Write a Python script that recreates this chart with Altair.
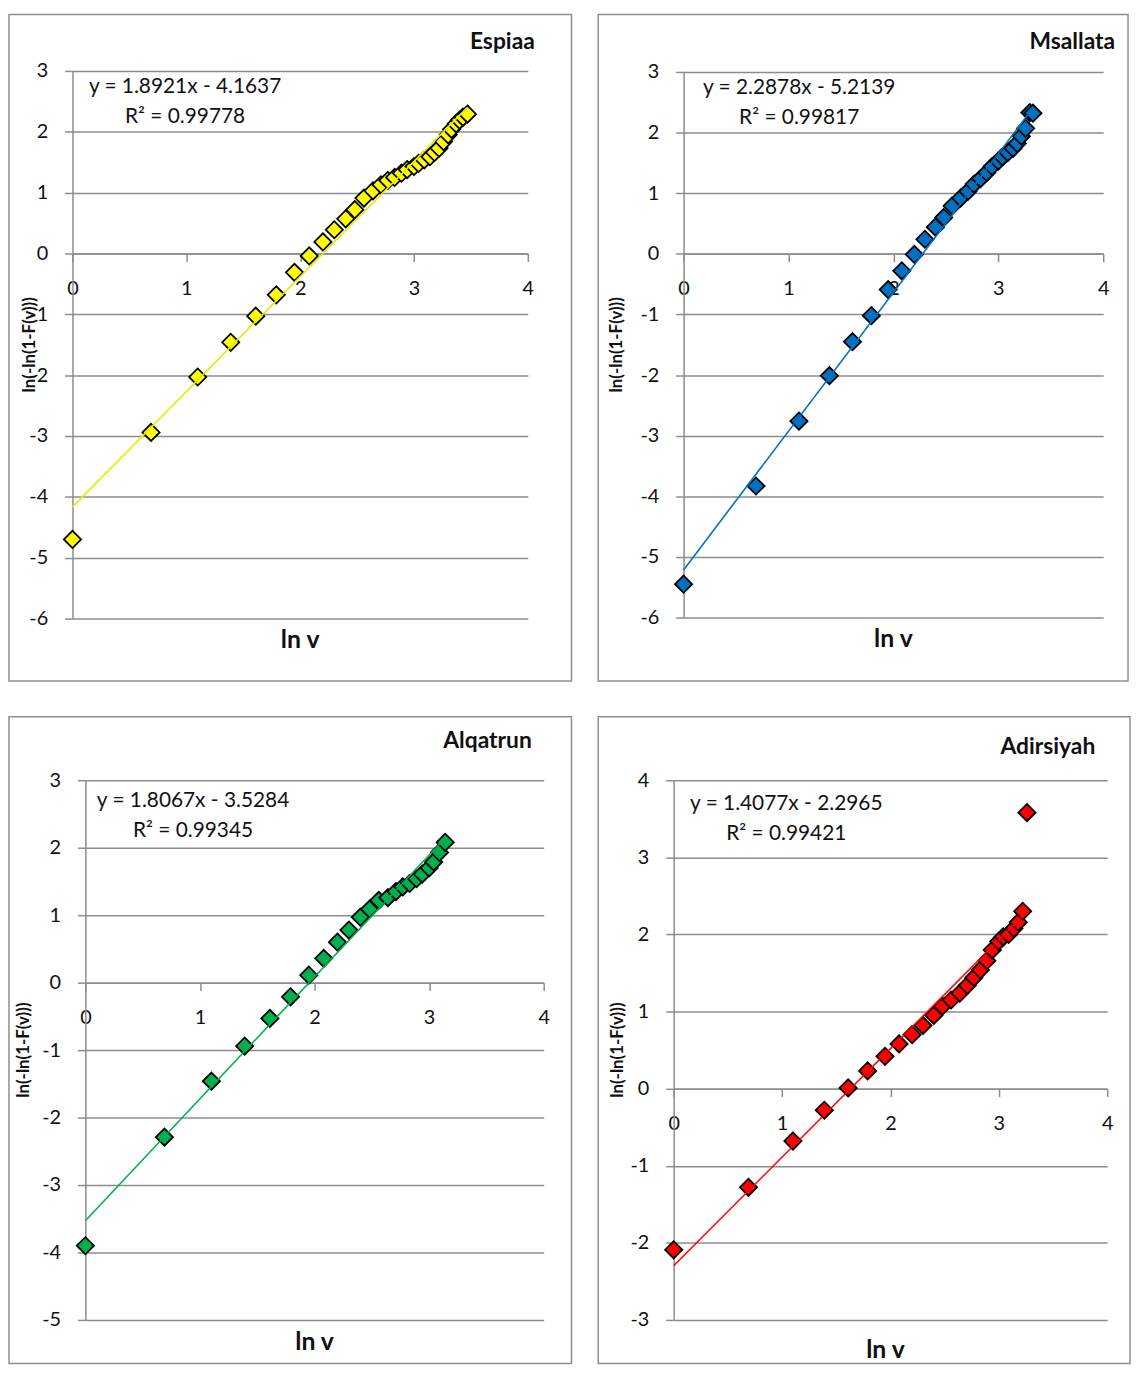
import altair as alt
import pandas as pd

# ---------------- data ----------------
esp_x = [0.0, 0.69, 1.10, 1.39, 1.61, 1.79, 1.95, 2.08, 2.20, 2.30, 2.40, 2.48, 2.56, 2.64, 2.71,
         2.77, 2.83, 2.89, 2.94, 3.00, 3.04, 3.09, 3.14, 3.18, 3.22, 3.26, 3.30, 3.33, 3.37, 3.40,
         3.43, 3.47]
esp_y = [-4.70, -2.94, -2.03, -1.46, -1.03, -0.68, -0.31, -0.04, 0.19, 0.39, 0.57, 0.72, 0.91, 1.03,
         1.13, 1.20, 1.25, 1.32, 1.38, 1.43, 1.48, 1.54, 1.59, 1.66, 1.73, 1.84, 1.95, 2.04, 2.13,
         2.19, 2.24, 2.29]

msa_x = [0.0, 0.69, 1.10, 1.39, 1.61, 1.79, 1.95, 2.08, 2.20, 2.30, 2.40, 2.48, 2.56, 2.64, 2.71,
         2.77, 2.83, 2.89, 2.94, 3.00, 3.04, 3.09, 3.14, 3.18, 3.22, 3.26, 3.30, 3.33]
msa_y = [-5.45, -3.83, -2.76, -2.01, -1.45, -1.02, -0.59, -0.28, -0.01, 0.24, 0.44, 0.60, 0.79, 0.92,
         1.03, 1.15, 1.24, 1.34, 1.44, 1.53, 1.60, 1.67, 1.74, 1.82, 1.94, 2.07, 2.33, 2.32]

alq_x = [0.0, 0.69, 1.10, 1.39, 1.61, 1.79, 1.95, 2.08, 2.20, 2.30, 2.40, 2.48, 2.56, 2.64, 2.71,
         2.77, 2.83, 2.89, 2.94, 3.00, 3.04, 3.09, 3.14]
alq_y = [-3.90, -2.29, -1.46, -0.94, -0.53, -0.21, 0.11, 0.36, 0.60, 0.78, 0.97, 1.09, 1.22, 1.26,
         1.35, 1.42, 1.47, 1.54, 1.61, 1.70, 1.79, 1.93, 2.08]

adi_x = [0.0, 0.69, 1.10, 1.39, 1.61, 1.79, 1.95, 2.08, 2.20, 2.30, 2.40, 2.48, 2.56, 2.64, 2.71,
         2.77, 2.83, 2.89, 2.94, 3.00, 3.04, 3.09, 3.14, 3.18, 3.22, 3.26]
adi_y = [-2.09, -1.28, -0.68, -0.28, 0.01, 0.23, 0.42, 0.58, 0.70, 0.82, 0.95, 1.07, 1.15, 1.24,
         1.34, 1.44, 1.54, 1.66, 1.80, 1.91, 1.97, 2.00, 2.08, 2.16, 2.30, 3.58]

names = ["Espiaa", "Msallata", "Alqatrun", "Adirsiyah"]
slopes = [1.8921, 2.2878, 1.8067, 1.4077]
intercepts = [-4.1637, -5.2139, -3.5284, -2.2965]
slope_txt = ["1.8921", "2.2878", "1.8067", "1.4077"]
icpt_txt = ["4.1637", "5.2139", "3.5284", "2.2965"]
r2_txt = ["0.99778", "0.99817", "0.99345", "0.99421"]
colors = ["#FFFF00", "#0070C0", "#00B050", "#FF0000"]
line_colors = ["#EAEA00", "#0070C0", "#00B050", "#FF0000"]
y_ranges = [(-6, 3), (-6, 3), (-5, 3), (-3, 4)]
x_ticks = [0, 1, 2, 3, 4]

GRID = "#8C8C8C"
FONT = "Lato"
TXT = "#111111"


def panel(i, xs, ys, L, T, W, H, Wf, Hf, eq_pos, title_pos, xtitle_pos, ytitle_pos):
    ymin, ymax = y_ranges[i]
    df = pd.DataFrame({"x": xs, "y": ys})
    xmax = max(xs)
    trend = pd.DataFrame({"x": [0.0, xmax],
                          "y": [intercepts[i], intercepts[i] + slopes[i] * xmax]})
    one = pd.DataFrame({"k": [0]})

    xscale = alt.Scale(domain=[0, 4], range=[L, L + W], nice=False, zero=False)
    yscale = alt.Scale(domain=[ymin, ymax], range=[T + H, T], nice=False, zero=False)
    y0 = T + H * ymax / (ymax - ymin)

    x_axis = alt.Axis(values=x_ticks, grid=False, offset=-(Hf - y0), tickSize=8,
                      labelPadding=17, labelFontSize=20, labelFont=FONT, labelColor=TXT,
                      domainColor=GRID, tickColor=GRID, domainWidth=1.5, tickWidth=1.5,
                      title=None, labelFlush=False, labelExpr="datum.value + ''")
    y_axis = alt.Axis(values=list(range(ymin, ymax + 1)), grid=True, gridColor=GRID,
                      gridWidth=1.5, tickSize=8, labelPadding=17, labelFontSize=20,
                      labelFont=FONT, labelColor=TXT, domainColor=GRID, tickColor=GRID,
                      domainWidth=1.5, tickWidth=1.5, title=None, offset=-L,
                      labelExpr="datum.value + ''")

    pts = alt.Chart(df).mark_point(shape="diamond", filled=True, size=300, fill=colors[i],
                                   stroke="black", strokeWidth=1.8, opacity=1).encode(
        x=alt.X("x:Q", scale=xscale, axis=x_axis),
        y=alt.Y("y:Q", scale=yscale, axis=y_axis))

    line = alt.Chart(trend).mark_line(color=line_colors[i], strokeWidth=1.6).encode(
        x=alt.X("x:Q", scale=xscale), y=alt.Y("y:Q", scale=yscale))

    eq = f"y = {slope_txt[i]}x - {icpt_txt[i]}\nR\u00b2 = {r2_txt[i]}"
    eq_t = alt.Chart(one).mark_text(align="center", baseline="middle", lineBreak="\n",
                                    lineHeight=30, fontSize=21, font=FONT, color=TXT).encode(
        x=alt.value(eq_pos[0]), y=alt.value(eq_pos[1]), text=alt.value(eq))

    title_t = alt.Chart(one).mark_text(align="right", baseline="middle", fontSize=23,
                                       fontWeight="bold", font=FONT, color=TXT).encode(
        x=alt.value(title_pos[0]), y=alt.value(title_pos[1]), text=alt.value(names[i]))

    xt = alt.Chart(one).mark_text(align="center", baseline="middle", fontSize=25,
                                  fontWeight="bold", font=FONT, color=TXT).encode(
        x=alt.value(xtitle_pos[0]), y=alt.value(xtitle_pos[1]), text=alt.value("ln v"))

    yt = alt.Chart(one).mark_text(align="center", baseline="middle", fontSize=17,
                                  fontWeight="bold", font=FONT, color=TXT, angle=270).encode(
        x=alt.value(ytitle_pos[0]), y=alt.value(ytitle_pos[1]),
        text=alt.value("ln(-ln(1-F(v)))"))

    return alt.layer(pts, line, eq_t, title_t, xt, yt).properties(width=Wf, height=Hf)


# row 1
p1 = panel(0, esp_x, esp_y, 64, 57, 459, 552, 567, 672,
           (177.5, 73), (530, 28), (293.5, 631), (21, 333))
p2 = panel(1, msa_x, msa_y, 86, 58, 423, 550, 534, 672,
           (202.5, 74), (521, 28), (297.5, 630), (19, 333))
# row 2
p3 = panel(2, alq_x, alq_y, 77, 64, 462, 544, 567, 652,
           (185.5, 85), (527, 24), (308, 630), (15, 336))
p4 = panel(3, adi_x, adi_y, 76, 64, 437, 544, 536, 652,
           (189.5, 88), (501, 31), (289.5, 638), (20, 336))

chart = alt.concat(
    p1, p2, p3, p4, columns=2, spacing={"row": 36, "column": 27}, bounds="flush",
).properties(padding=0).configure_view(stroke="#8E8E8E", strokeWidth=1.5)

chart.save("out.html", embed_options={"renderer": "svg", "actions": False})
